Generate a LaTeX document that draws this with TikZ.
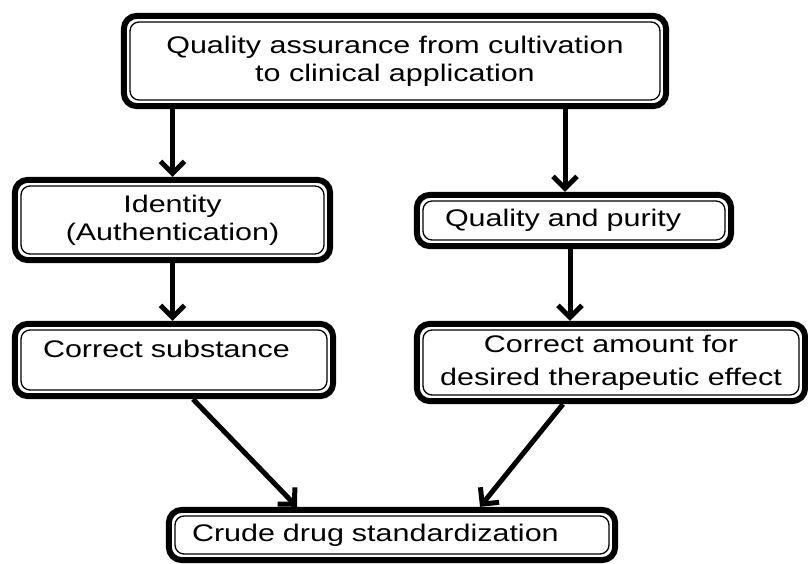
\documentclass[tikz,border=0pt]{standalone}
\usepackage{fontspec}
\setmainfont{Liberation Sans}[FakeStretch=1.27]
\usetikzlibrary{positioning, arrows.meta, fit}

\begin{document}
\begin{tikzpicture}[
    x=1pt, y=-1pt,
    box/.style={rectangle, draw, line width=1.3pt, rounded corners=9pt, align=center, inner sep=0pt, font=\fontsize{24}{28}\selectfont},
    frame/.style={draw, line width=6pt, rounded corners=13pt, inner sep=5.5pt},
    arr/.style={-{Straight Barb[length=12pt, width=24pt]}, line width=5pt}
]
\useasboundingbox (0,0) rectangle (808,564);

% Boxes
\node[box, minimum width=530pt, minimum height=78pt] (qa) at (395,61) {Quality assurance from cultivation\\to clinical application};
\node[box, minimum width=303pt, minimum height=68pt] (id) at (172.5,220) {Identity\\(Authentication)};
\node[box, minimum width=302pt, minimum height=39pt, text width=258pt, align=left] (qp) at (574,220.5) {Quality and purity};
\node[box, minimum width=306pt, minimum height=60pt, text width=262pt, align=left, text depth=22pt] (cs) at (174,360) {Correct substance};
\node[box, minimum width=376pt, minimum height=65pt, font=\fontsize{24}{33}\selectfont] (ca) at (611,362.5) {Correct amount for\\desired therapeutic effect};
\node[box, minimum width=434pt, minimum height=38pt, text width=400pt, align=left] (cd) at (392,535) {Crude drug standardization};

% Thick outer frames
\foreach \n in {qa,id,qp,cs,ca,cd}
  \node[frame, fit=(\n)] (f\n) {};

% Connections
\draw[arr] (fqa.south -| fid.north) -- (fid.north);
\draw[arr] ([xshift=-9pt]fqp.north |- fqa.south) -- ([xshift=-9pt]fqp.north);
\draw[arr] (fid.south) -- (fid.south |- fcs.north);
\draw[arr] ([xshift=-4pt]fqp.south) -- ([xshift=-4pt]fqp.south |- fca.north);
\draw[arr] ([xshift=19pt]fcs.south) -- ([xshift=-95pt]fcd.north);
\draw[arr] ([xshift=-48pt]fca.south) -- ([xshift=88pt]fcd.north);

\end{tikzpicture}
\end{document}
